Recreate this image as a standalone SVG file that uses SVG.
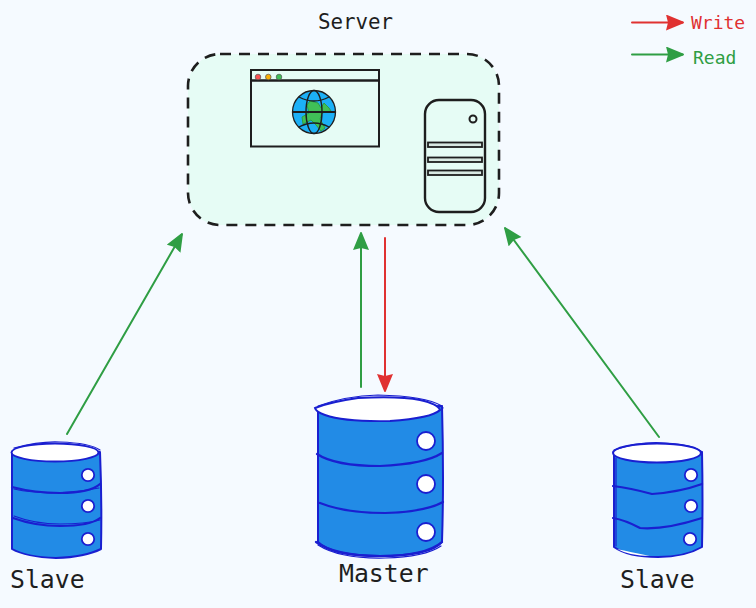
<svg xmlns="http://www.w3.org/2000/svg" width="756" height="608" viewBox="0 0 756 608">
<style>
text{font-family:"DejaVu Sans Mono","Liberation Mono",monospace;fill:#1e1e1e}
.big{font-size:24.800px}
.wire{fill:none;stroke-width:2;stroke-linecap:round}
.g{stroke:#2f9e44}.r{stroke:#e03131}
.body{fill:#228be6;stroke:#1a1fd0;stroke-width:2;stroke-linejoin:round}
.ln{fill:none;stroke:#1a1fd0;stroke-width:2.200;stroke-linecap:round}
.thin{fill:none;stroke:#1a1fd0;stroke-width:1.200;stroke-linecap:round}
.top{fill:#fff;stroke:#1a1fd0;stroke-width:2}
.hole{fill:#fff;stroke:#1a1fd0;stroke-width:1.800}
.ink{fill:none;stroke:#1e1e1e;stroke-width:2.400}
</style>
<defs>
<marker id="ag" markerUnits="userSpaceOnUse" markerWidth="20" markerHeight="18" refX="17" refY="8" orient="auto"><path d="M0 0L17 7L17 9L0 16L2 8Z" fill="#2f9e44"/></marker>
<marker id="ar" markerUnits="userSpaceOnUse" markerWidth="20" markerHeight="18" refX="17" refY="8" orient="auto"><path d="M0 0L17 7L17 9L0 16L2 8Z" fill="#e03131"/></marker>
</defs>
<rect width="756" height="608" fill="#f5faff"/>
<g id="server">
<rect x="188" y="54" width="311" height="171" rx="32" fill="#e6fcf5" stroke="#1e1e1e" stroke-width="2.600" stroke-dasharray="11 8"/>
<text x="318" y="29" font-size="20.800">Server</text>
</g>
<g id="browser">
<rect x="251" y="70" width="128" height="76.500" fill="none" stroke="#1e1e1e" stroke-width="2"/>
<path d="M251 80.500H379" class="ink"/>
<circle cx="258" cy="77" r="2.800" fill="#fa5252" stroke="#555" stroke-width=".7"/>
<circle cx="268.300" cy="77" r="2.800" fill="#fab005" stroke="#555" stroke-width=".7"/>
<circle cx="279" cy="77" r="2.800" fill="#40c057" stroke="#555" stroke-width=".7"/>
<circle cx="314" cy="112" r="21.500" fill="#1cb0f6" stroke="#1e1e1e" stroke-width="1.300"/>
<path d="M310 101L318 103L321 108L324 103L329 108L331 111L322 113L320 119L325 128L321 131L316 125L311 120L303 124L302 117L309 113L307 105Z" fill="#40c057" stroke="#2f9e44" stroke-width="1"/>
<path d="M292.500 112H335.500" fill="none" stroke="#1e1e1e" stroke-width="2"/>
<ellipse cx="314" cy="112" rx="8" ry="21.500" fill="none" stroke="#1e1e1e" stroke-width="1.400"/>
<path d="M299 97Q314 105 329 97M299 127Q314 119 329 127" fill="none" stroke="#1e1e1e" stroke-width="1.400"/>
</g>
<g id="tower">
<rect x="425" y="100" width="60" height="112" rx="14" fill="none" stroke="#1e1e1e" stroke-width="2.400"/>
<circle cx="473" cy="119" r="3.500" fill="none" stroke="#1e1e1e" stroke-width="2"/>
<rect x="428" y="142.500" width="54" height="4.500" fill="#d8e8e2" stroke="#1e1e1e" stroke-width="1.800"/>
<rect x="428" y="157.500" width="54" height="4.500" fill="#d8e8e2" stroke="#1e1e1e" stroke-width="1.800"/>
<rect x="428" y="170.500" width="54" height="4.500" fill="#d8e8e2" stroke="#1e1e1e" stroke-width="1.800"/>
</g>
<g id="connectors">
<path class="wire g" d="M67 434L182 234" marker-end="url(#ag)"/>
<path class="wire g" d="M361 387V233" marker-end="url(#ag)"/>
<path class="wire r" d="M385 238V391" marker-end="url(#ar)"/>
<path class="wire g" d="M659 437L505 228" marker-end="url(#ag)"/>
</g>
<g id="master">
<path class="body" d="M318 408L442 406Q444 480 442 542Q430 556 380 556Q332 556 318 542Z"/>
<path class="top" d="M315 408Q330 402 358 398Q400 396 420 400Q438 404 440 410Q432 418 390 421Q345 422 325 415Q316 412 315 408Z"/>
<path class="thin" d="M318 406Q345 396 378 395Q425 396 442 406L443 408"/>
<path class="ln" d="M317 454Q335 466 380 466Q425 464 442 453M320 503Q345 513 385 513Q425 512 443 502M316 542Q335 556 380 556Q425 556 442 542"/>
<path class="thin" d="M318 545Q340 559 385 558Q425 557 441 546"/>
<circle class="hole" cx="426" cy="441" r="9"/><circle class="hole" cx="426" cy="484" r="9"/><circle class="hole" cx="426" cy="532" r="9"/>
<text class="big" x="339" y="582">Master</text>
</g>
<g id="slave-left">
<path class="body" d="M12 452L100 452Q102 500 101 549Q85 557 56 558Q26 557 12 549Z"/>
<ellipse class="top" cx="55" cy="452.500" rx="43.500" ry="9"/>
<path class="thin" d="M14 448Q40 441 60 442Q90 443 100 450"/>
<path class="ln" d="M12 487Q35 493 60 493Q90 493 100 484M13 518Q35 526 60 526Q90 526 100 518"/>
<path class="thin" d="M14 489Q50 497 99 488M14 516Q35 524 60 524Q85 524 100 520"/>
<circle class="hole" cx="88" cy="475" r="6.200"/><circle class="hole" cx="88" cy="506" r="6.200"/><circle class="hole" cx="88" cy="539" r="6.200"/>
<text class="big" x="10" y="588">Slave</text>
</g>
<g id="slave-right">
<path class="body" d="M614 452L702 452Q703 500 702 547Q685 557 658 557Q628 557 614 547Z"/>
<ellipse class="top" cx="657" cy="453" rx="44" ry="9.500"/>
<path class="thin" d="M614 450Q640 441 665 443Q695 445 702 452M616 458V546"/>
<path class="ln" d="M613 486Q630 488 652 494Q680 492 702 484M613 518Q625 520 640 528Q665 530 702 518"/>
<path fill="#fff" d="M617 549Q630 552 650 556Q630 556 617 549Z"/>
<circle class="hole" cx="691" cy="475" r="6.200"/><circle class="hole" cx="691" cy="506" r="6.200"/><circle class="hole" cx="690" cy="539" r="6.200"/>
<text class="big" x="620" y="588">Slave</text>
</g>
<g id="legend">
<path class="wire r" d="M632 22.500H683" marker-end="url(#ar)"/>
<path class="wire g" d="M632 54.500H683" marker-end="url(#ag)"/>
<text x="691" y="29" font-size="18" style="fill:#e03131">Write</text>
<text x="693" y="64" font-size="18" style="fill:#2f9e44">Read</text>
</g>
</svg>
